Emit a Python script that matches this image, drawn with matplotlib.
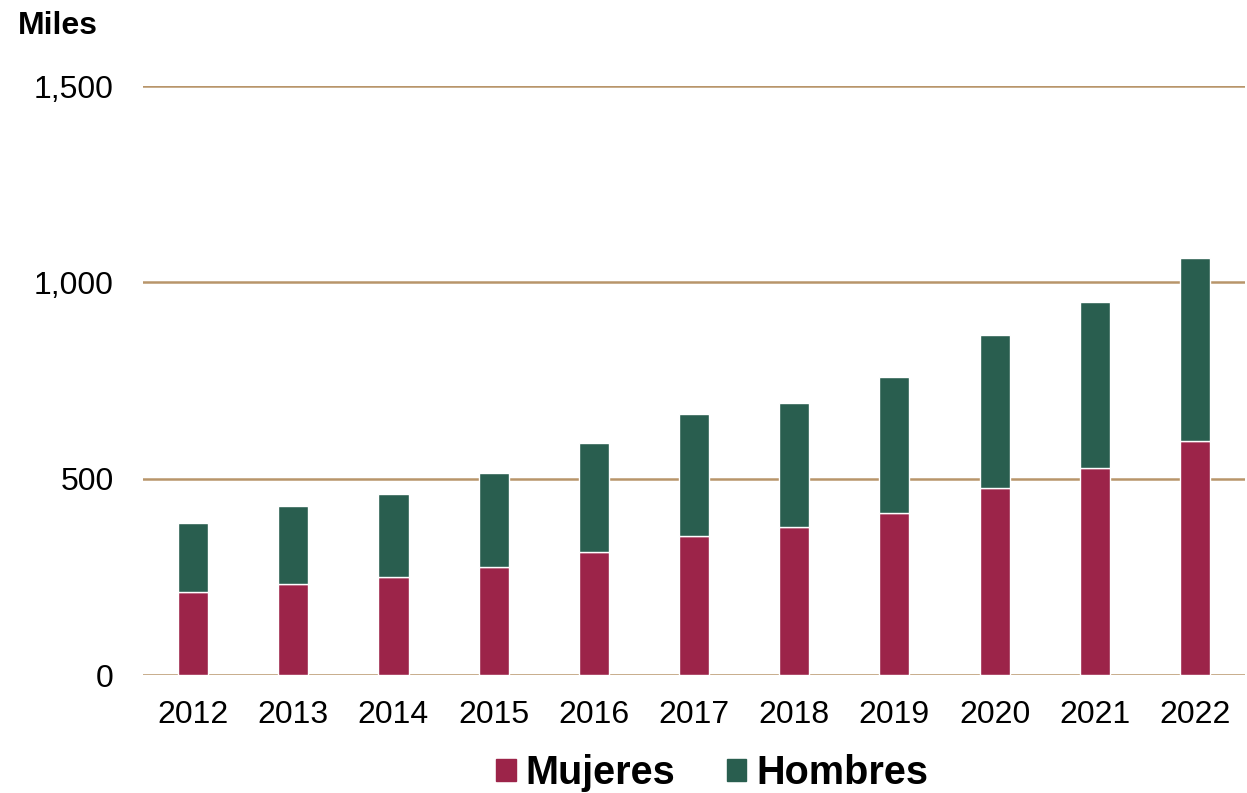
import numpy as np
import matplotlib.pyplot as plt
from matplotlib.patches import Patch
from matplotlib.ticker import FuncFormatter

plt.rcParams['font.family'] = ['Liberation Sans', 'DejaVu Sans']

anios = ["2012", "2013", "2014", "2015", "2016", "2017", "2018", "2019", "2020", "2021", "2022"]
mujeres = [212, 232, 249, 274, 313, 355, 378, 413, 476, 528, 596]
hombres = [174, 198, 211, 240, 279, 310, 315, 345, 390, 422, 465]

c_muj = "#9C2449"
c_hom = "#295E4F"
c_grid = "#B8956A"

fig = plt.figure(figsize=(12.47, 7.93), dpi=100)
ax = fig.add_axes([0.1147, 0.1488, 0.8837, 0.7427])

x = np.arange(len(anios))
ax.bar(x, mujeres, width=0.3, color=c_muj, edgecolor="white", linewidth=1, zorder=3)
ax.bar(x, hombres, width=0.3, bottom=mujeres, color=c_hom, edgecolor="white", linewidth=1, zorder=3)

ax.set_xlim(-0.5, len(anios) - 0.5)
ax.set_ylim(0, 1500)
ax.set_yticks([0, 500, 1000, 1500])
ax.yaxis.set_major_formatter(FuncFormatter(lambda v, p: f"{int(v):,}"))
ax.set_xticks(x)
ax.set_xticklabels(anios)
ax.grid(axis="y", color=c_grid, linewidth=1.8, zorder=0)
ax.set_axisbelow(True)
for s in ax.spines.values():
    s.set_visible(False)
ax.tick_params(axis="both", length=0, labelsize=23)
ax.tick_params(axis="y", pad=21)
ax.tick_params(axis="x", pad=18)

fig.text(18 / 1247, 1 - 26 / 793, "Miles", fontsize=23, fontweight="bold", va="center", ha="left")

handles = [Patch(color=c_muj, label="Mujeres"), Patch(color=c_hom, label="Hombres")]
fig.legend(handles=handles, loc="center", bbox_to_anchor=(712 / 1247, 1 - 773 / 793), ncol=2,
           frameon=False, prop={"size": 28.5, "weight": "bold"}, handlelength=0.5, handleheight=0.5,
           handletextpad=0.25, columnspacing=1.3)

fig.savefig("out.png", dpi=100)
